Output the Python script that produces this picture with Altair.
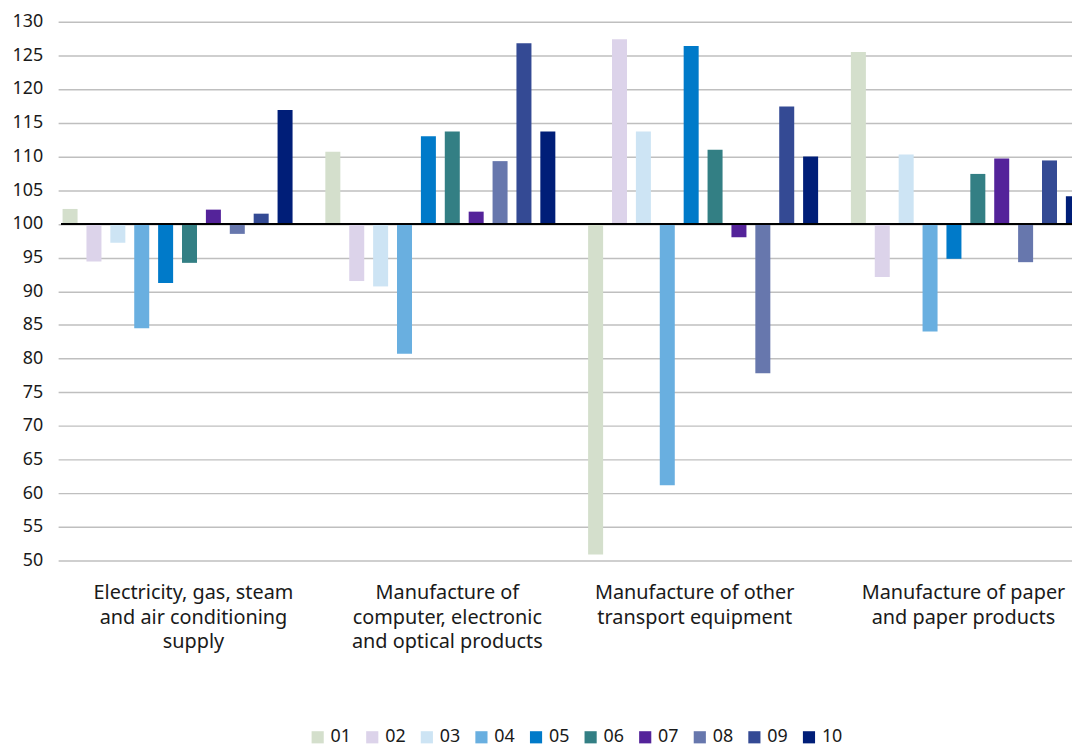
import altair as alt
import pandas as pd

categories = [
    "Electricity, gas, steam|and air conditioning|supply",
    "Manufacture of|computer, electronic|and optical products",
    "Manufacture of other|transport equipment",
    "Manufacture of paper|and paper products",
]
series = ["01", "02", "03", "04", "05", "06", "07", "08", "09", "10"]
values = [
    [102.2, 94.4, 97.2, 84.5, 91.2, 94.2, 102.1, 98.5, 101.5, 116.9],
    [110.7, 91.5, 90.7, 80.7, 113.0, 113.7, 101.8, 109.3, 126.8, 113.7],
    [50.9, 127.4, 113.7, 61.2, 126.4, 111.0, 98.0, 77.8, 117.4, 110.0],
    [125.5, 92.1, 110.3, 84.0, 94.8, 107.4, 109.7, 94.3, 109.4, 104.1],
]
colors = ["#D4DFCC", "#DCD3EA", "#CDE4F4", "#69AFE0", "#007AC9",
          "#337F84", "#54239A", "#6777AD", "#344A94", "#001E78"]
y_ticks = list(range(50, 131, 5))

rows = []
for c, vals in zip(categories, values):
    for s, v in zip(series, vals):
        rows.append({"category": c, "series": s, "value": v})
df = pd.DataFrame(rows)

FONT = "Noto Sans"
yscale = alt.Scale(domain=[50, 130], nice=False, zero=False)
yaxis = alt.Axis(values=y_ticks, domain=False, ticks=False,
                 gridColor="#BFBFBF", gridWidth=1.5,
                 labelOverlap=False,
                 labelFontSize=18, labelPadding=19,
                 labelColor="#1a1a1a", labelFont=FONT)

label_offset = {
    "condition": [
        {"test": "datum.value == '%s'" % categories[1], "value": -5},
        {"test": "datum.value == '%s'" % categories[2], "value": -20.5},
        {"test": "datum.value == '%s'" % categories[3], "value": -14.5},
    ],
    "value": 4,
}

base = alt.Chart(df)

bars = base.mark_bar().encode(
    x=alt.X("category:N", sort=categories, title=None,
            scale=alt.Scale(paddingInner=0, paddingOuter=0, range=[-3.5, 1055.5]),
            axis=alt.Axis(labelExpr="split(datum.label, '|')", labelAngle=0,
                          domain=False, ticks=False, labelPadding=22,
                          labelFontSize=20, labelLineHeight=25,
                          labelBaseline="top", labelColor="#1a1a1a",
                          labelLimit=400, labelFont=FONT,
                          labelOffset=label_offset)),
    xOffset=alt.XOffset("series:N", sort=series,
                        scale=alt.Scale(domain=series + ["11"],
                                        paddingInner=0.372, paddingOuter=0.186)),
    y=alt.Y("value:Q", title=None, scale=yscale, axis=yaxis),
    y2=alt.datum(100),
    color=alt.Color("series:N", sort=series, title=None,
                    scale=alt.Scale(domain=series, range=colors),
                    legend=alt.Legend(orient="none", direction="horizontal",
                                      legendX=249, legendY=712,
                                      symbolType="square", symbolSize=150,
                                      symbolStrokeWidth=0,
                                      labelFontSize=18, labelFont=FONT,
                                      labelColor="#1a1a1a",
                                      columnPadding=12)),
)

rule = base.mark_rule(color="#000000", strokeWidth=1.5).encode(
    y=alt.Y(datum=100, scale=yscale, axis=yaxis, title=None)
)

chart = alt.layer(bars, rule).properties(
    width=1018, height=543,
    autosize=alt.AutoSizeParams(type="none"),
    padding={"left": 54, "top": 11, "right": 0, "bottom": 184},
).configure_view(stroke=None)

chart.save("out.html", embed_options={"renderer": "svg", "actions": False})
